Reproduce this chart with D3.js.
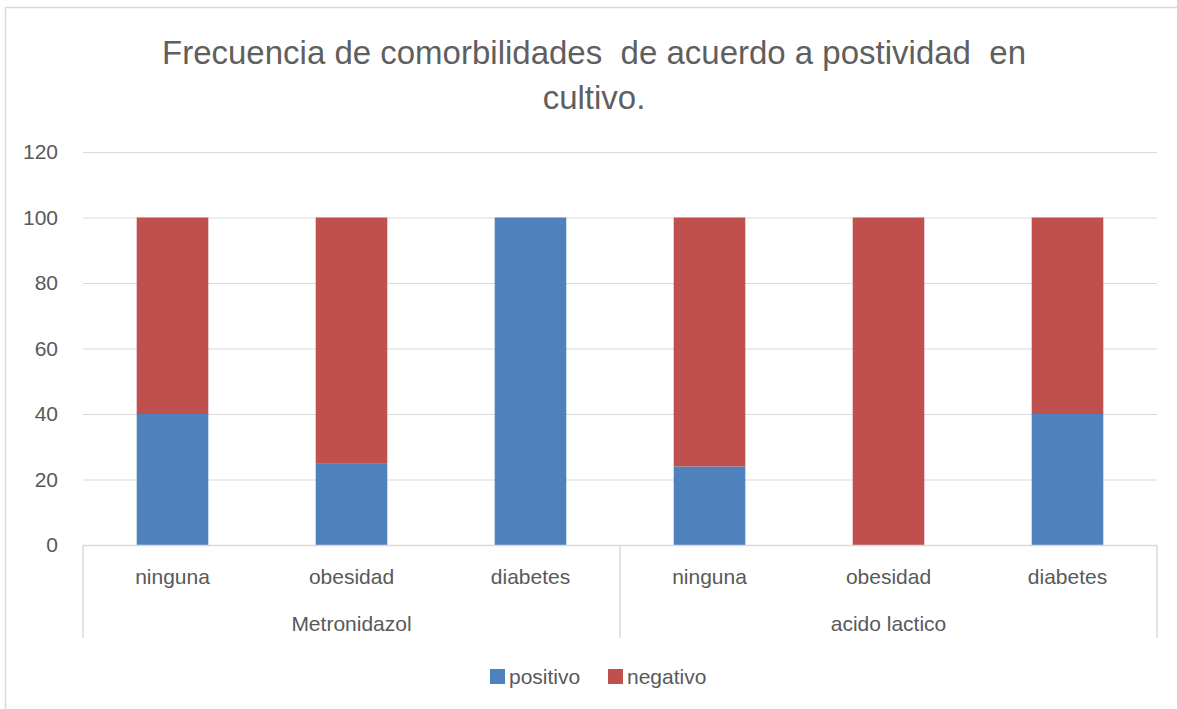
<!DOCTYPE html>
<html>
<head>
<meta charset="utf-8">
<script src="https://cdn.jsdelivr.net/npm/d3@7"></script>
<style>
  body { margin: 0; background: #fff; }
  svg { display: block; font-family: "Liberation Sans", Arial, sans-serif; }
</style>
</head>
<body>
<div id="chart"></div>
<script>
const groups = ['Metronidazol', 'acido lactico'];
const subcats = ['ninguna', 'obesidad', 'diabetes'];
const positivo = [40, 25, 100, 24, 0, 40];
const negativo = [60, 75, 0, 76, 100, 60];
const yTicks = [0, 20, 40, 60, 80, 100, 120];
const seriesNames = ['positivo', 'negativo'];
const colors = ['#4f81bd', '#c0504d'];

const width = 1177;
const height = 709;
const margin = { top: 152, right: 20, bottom: 164, left: 83 };
const textColor = '#595959';
const gridColor = '#d9d9d9';

const rows = [];
groups.forEach((g, gi) => {
    subcats.forEach((s, si) => {
        const i = gi * subcats.length + si;
        rows.push({ group: g, sub: s, positivo: positivo[i], negativo: negativo[i] });
    });
});

const svg = d3.select('#chart')
    .append('svg')
    .attr('width', width)
    .attr('height', height);

// chart border
svg.append('rect')
    .attr('x', 5.5).attr('y', 7.5)
    .attr('width', width + 10).attr('height', height + 10)
    .attr('fill', 'none')
    .attr('stroke', gridColor)
    .attr('stroke-width', 1.5);

// title
const title = svg.append('text')
    .attr('text-anchor', 'middle')
    .attr('fill', '#5f5f5f')
    .attr('font-size', 33)
    .style('white-space', 'pre');
title.append('tspan').attr('x', 594).attr('y', 64)
    .text('Frecuencia de comorbilidades  de acuerdo a postividad  en');
title.append('tspan').attr('x', 594).attr('y', 109).text('cultivo.');

const x0 = d3.scaleBand()
    .domain(groups)
    .range([margin.left, width - margin.right])
    .padding(0);

const x1 = d3.scaleBand()
    .domain(subcats)
    .range([0, x0.bandwidth()])
    .paddingInner(0.6)
    .paddingOuter(0.3);

const y = d3.scaleLinear()
    .domain([0, 120])
    .range([height - margin.bottom, margin.top]);

const y0 = y(0);

// gridlines + y labels
svg.append('g')
    .attr('transform', `translate(${margin.left}, 0)`)
    .call(d3.axisLeft(y).tickValues(yTicks).tickSize(-(width - margin.left - margin.right)).tickPadding(25))
    .call(g => g.select('.domain').remove())
    .call(g => g.selectAll('line').attr('stroke', gridColor).attr('stroke-width', 1.2))
    .call(g => g.selectAll('text').attr('fill', textColor).attr('font-size', 21).attr('font-family', '"Liberation Sans", Arial, sans-serif'));

// stacked bars
const stack = d3.stack().keys(seriesNames)(rows);
svg.append('g')
    .selectAll('g')
    .data(stack)
    .enter().append('g')
    .attr('fill', (d, i) => colors[i])
    .selectAll('rect')
    .data(d => d)
    .enter().append('rect')
    .attr('x', d => x0(d.data.group) + x1(d.data.sub))
    .attr('width', x1.bandwidth())
    .attr('y', d => y(d[1]))
    .attr('height', d => y(d[0]) - y(d[1]));

// category axis: baseline, separators, labels
const axisBottom = 638;
svg.append('line')
    .attr('x1', margin.left).attr('x2', width - margin.right)
    .attr('y1', y0 + 0.5).attr('y2', y0 + 0.5)
    .attr('stroke', gridColor).attr('stroke-width', 1.5);

const seps = groups.map(g => x0(g)).concat([x0(groups[groups.length - 1]) + x0.bandwidth()]);
svg.append('g')
    .selectAll('line')
    .data(seps)
    .enter().append('line')
    .attr('x1', d => d).attr('x2', d => d)
    .attr('y1', y0).attr('y2', axisBottom)
    .attr('stroke', gridColor).attr('stroke-width', 1.5);

svg.append('g')
    .selectAll('text')
    .data(rows)
    .enter().append('text')
    .attr('x', d => x0(d.group) + x1(d.sub) + x1.bandwidth() / 2)
    .attr('y', 584)
    .attr('text-anchor', 'middle')
    .attr('fill', textColor)
    .attr('font-size', 21)
    .text(d => d.sub);

svg.append('g')
    .selectAll('text')
    .data(groups)
    .enter().append('text')
    .attr('x', d => x0(d) + x0.bandwidth() / 2)
    .attr('y', 631)
    .attr('text-anchor', 'middle')
    .attr('fill', textColor)
    .attr('font-size', 21)
    .text(d => d);

// legend
const legendX = [490, 608];
const legend = svg.append('g')
    .selectAll('g')
    .data(seriesNames)
    .enter().append('g')
    .attr('transform', (d, i) => `translate(${legendX[i]}, 669)`);
legend.append('rect')
    .attr('width', 15).attr('height', 15)
    .attr('fill', (d, i) => colors[i]);
legend.append('text')
    .attr('x', 19).attr('y', 15)
    .attr('fill', textColor)
    .attr('font-size', 21)
    .text(d => d);
</script>
</body>
</html>
